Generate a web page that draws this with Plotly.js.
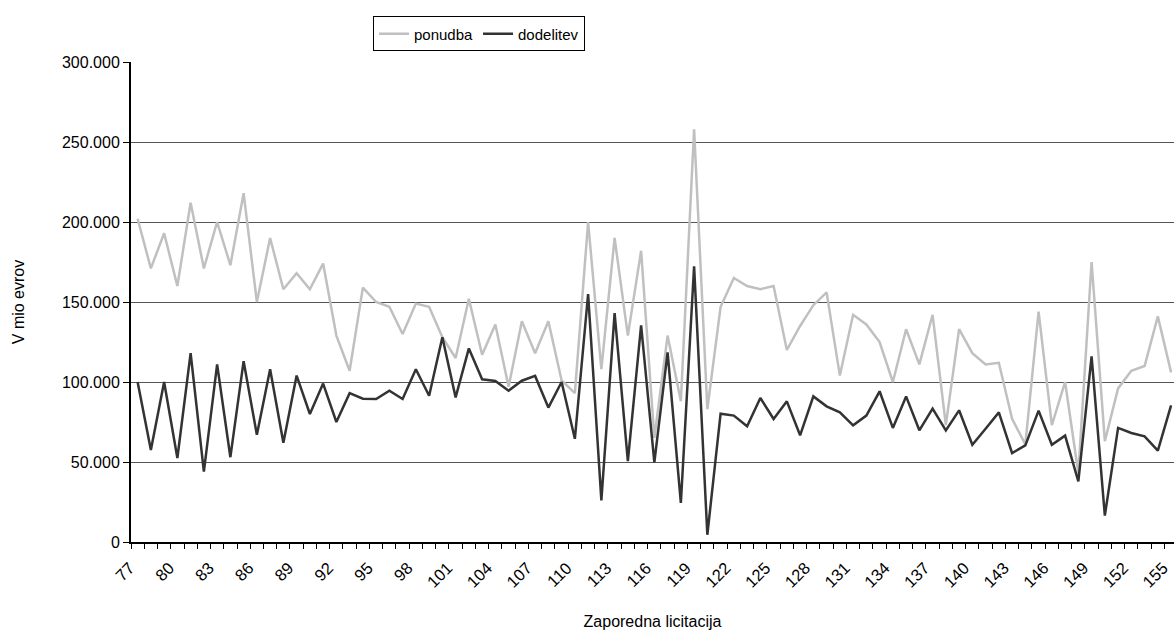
<!DOCTYPE html>
<html>
<head>
<meta charset="utf-8">
<script src="https://cdn.plot.ly/plotly-3.0.1.min.js"></script>
<style>html,body{margin:0;padding:0;background:#fff;}#chart{width:1174px;height:632px;}</style>
</head>
<body>
<div id="chart"></div>
<script>
// Zaporedna licitacija (auction number)
const licitacija = [];
for (let n = 77; n <= 155; n++) licitacija.push(n);

// x tick labels (every third auction)
const tickLabels = [];
for (let n = 77; n <= 155; n += 3) tickLabels.push(n);

// ponudba (offer), in V mio evrov (thousands shown with '.')
const ponudba = [
  202000, 171000, 193000, 160000, 212000, 171000, 200000, 173000, 218000, 150000,
  190000, 158000, 168000, 158000, 174000, 129000, 107000, 159000, 150000, 147000,
  130000, 149000, 147000, 128000, 115000, 152000, 117000, 136000, 97000, 138000,
  118000, 138000, 101000, 93000, 200000, 108000, 190000, 129000, 182000, 65000,
  129000, 88000, 258000, 83000, 147000, 165000, 160000, 158000, 160000, 120000,
  135000, 148000, 156000, 104000, 142000, 136000, 125000, 100000, 133000, 111000,
  142000, 73000, 133000, 118000, 111000, 112000, 77000, 61000, 144000, 73000,
  100000, 43000, 175000, 63000, 96000, 107000, 110000, 141000, 106000
];

// dodelitev (allotment)
const dodelitev = [
  100000, 57500, 100000, 52500, 118000, 44000, 111000, 53000, 113000, 67000,
  108000, 62000, 104000, 80000, 99000, 75000, 93000, 89600, 89400, 94600,
  89400, 108000, 91400, 128000, 90400, 121000, 101700, 100600, 94600, 100800,
  103800, 84000, 100000, 64500, 155000, 26000, 143000, 50500, 135400, 49800,
  118500, 24400, 172300, 4500, 80200, 79000, 72300, 90000, 76900, 87900,
  66700, 91000, 84800, 81000, 72900, 79000, 94200, 71300, 91000, 69800,
  83300, 69800, 82300, 60800, 70800, 81000, 55600, 60400, 82100, 60800,
  66500, 37900, 116000, 16500, 71300, 68100, 66000, 57100, 85400
];

const seriesNames = ['ponudba', 'dodelitev'];

const traces = [
  {
    x: licitacija, y: ponudba, name: seriesNames[0], type: 'scatter', mode: 'lines',
    line: {color: '#c0c0c0', width: 2.5}
  },
  {
    x: licitacija, y: dodelitev, name: seriesNames[1], type: 'scatter', mode: 'lines',
    line: {color: '#333333', width: 2.5}
  }
];

const fam = '"Liberation Sans", Arial, sans-serif';

const layout = {
  width: 1174, height: 632,
  margin: {l: 131, r: 0, t: 62, b: 90},
  paper_bgcolor: '#fff', plot_bgcolor: '#fff',
  separators: ',.',
  font: {family: fam, size: 15, color: '#000'},
  showlegend: true,
  legend: {
    orientation: 'h', x: 0.232, xanchor: 'left', y: 1.095, yanchor: 'top',
    bordercolor: '#000', borderwidth: 1, bgcolor: '#fff',
    font: {family: fam, size: 15, color: '#000'},
    itemwidth: 30, traceorder: 'normal'
  },
  xaxis: {
    type: 'linear',
    range: [76.5, 155.22],
    tickmode: 'array', tickvals: tickLabels, ticktext: tickLabels.map(String),
    ticks: '',
    tickangle: -45,
    ticklabelstandoff: 8,
    ticklabelshift: -8,
    ticklabeloverflow: 'allow',
    tickfont: {family: fam, size: 16.5, color: '#000'},
    showgrid: false, zeroline: false,
    showline: true, linecolor: '#000', linewidth: 2,
    minor: {ticks: 'outside', tick0: 76.5, dtick: 1, ticklen: 5, tickwidth: 1, tickcolor: '#000', showgrid: false},
    title: {text: 'Zaporedna licitacija', font: {family: fam, size: 16, color: '#000'}, standoff: 26},
    automargin: false
  },
  yaxis: {
    range: [0, 300000],
    tick0: 0, dtick: 50000,
    tickformat: ',d',
    ticks: 'outside', ticklen: 6, tickwidth: 1, tickcolor: '#000',
    tickfont: {family: fam, size: 16, color: '#000'},
    showgrid: true, gridcolor: '#555', gridwidth: 1,
    zeroline: false,
    showline: true, linecolor: '#000', linewidth: 2,
    title: {text: 'V mio evrov', font: {family: fam, size: 16, color: '#000'}, standoff: 33},
    automargin: false
  }
};

Plotly.newPlot('chart', traces, layout, {staticPlot: true, displayModeBar: false});
</script>
</body>
</html>
